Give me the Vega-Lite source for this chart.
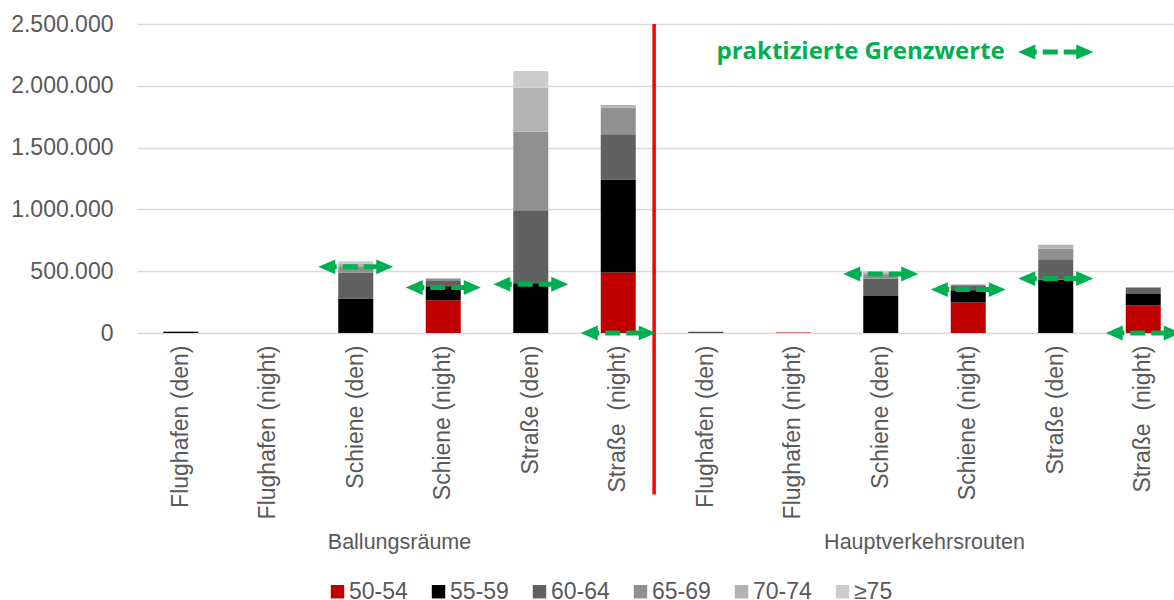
{
  "$schema": "https://vega.github.io/schema/vega-lite/v6.json",
  "width": 1037,
  "height": 309,
  "autosize": {"type": "none"},
  "padding": {"left": 137, "top": 24, "right": 0, "bottom": 267},
  "background": "white",
  "config": {
    "view": {"stroke": null},
    "font": "Liberation Sans"
  },
  "datasets": {
    "bars": [
      {"k": "B|Flughafen (den)", "band": "55-59", "v": 9000},
      {"k": "B|Flughafen (den)", "band": "60-64", "v": 4000},
      {"k": "B|Schiene (den)", "band": "55-59", "v": 279000},
      {"k": "B|Schiene (den)", "band": "60-64", "v": 211000},
      {"k": "B|Schiene (den)", "band": "65-69", "v": 51000},
      {"k": "B|Schiene (den)", "band": "70-74", "v": 24000},
      {"k": "B|Schiene (den)", "band": "≥75", "v": 16000},
      {"k": "B|Schiene (night)", "band": "50-54", "v": 265000},
      {"k": "B|Schiene (night)", "band": "55-59", "v": 113000},
      {"k": "B|Schiene (night)", "band": "60-64", "v": 43000},
      {"k": "B|Schiene (night)", "band": "65-69", "v": 19000},
      {"k": "B|Schiene (night)", "band": "70-74", "v": 3000},
      {"k": "B|Straße (den)", "band": "55-59", "v": 403000},
      {"k": "B|Straße (den)", "band": "60-64", "v": 591000},
      {"k": "B|Straße (den)", "band": "65-69", "v": 634000},
      {"k": "B|Straße (den)", "band": "70-74", "v": 356000},
      {"k": "B|Straße (den)", "band": "≥75", "v": 135000},
      {"k": "B|Straße \u00a0(night)", "band": "50-54", "v": 489000},
      {"k": "B|Straße \u00a0(night)", "band": "55-59", "v": 753000},
      {"k": "B|Straße \u00a0(night)", "band": "60-64", "v": 365000},
      {"k": "B|Straße \u00a0(night)", "band": "65-69", "v": 215000},
      {"k": "B|Straße \u00a0(night)", "band": "70-74", "v": 22000},
      {"k": "H|Flughafen (den)", "band": "55-59", "v": 7000},
      {"k": "H|Flughafen (den)", "band": "60-64", "v": 3000},
      {"k": "H|Flughafen (night)", "band": "50-54", "v": 4000},
      {"k": "H|Schiene (den)", "band": "55-59", "v": 300000},
      {"k": "H|Schiene (den)", "band": "60-64", "v": 141000},
      {"k": "H|Schiene (den)", "band": "65-69", "v": 35000},
      {"k": "H|Schiene (den)", "band": "70-74", "v": 15000},
      {"k": "H|Schiene (den)", "band": "≥75", "v": 8000},
      {"k": "H|Schiene (night)", "band": "50-54", "v": 246000},
      {"k": "H|Schiene (night)", "band": "55-59", "v": 100000},
      {"k": "H|Schiene (night)", "band": "60-64", "v": 35000},
      {"k": "H|Schiene (night)", "band": "65-69", "v": 11000},
      {"k": "H|Straße (den)", "band": "55-59", "v": 430000},
      {"k": "H|Straße (den)", "band": "60-64", "v": 166000},
      {"k": "H|Straße (den)", "band": "65-69", "v": 88000},
      {"k": "H|Straße (den)", "band": "70-74", "v": 28000},
      {"k": "H|Straße (den)", "band": "≥75", "v": 4000},
      {"k": "H|Straße \u00a0(night)", "band": "50-54", "v": 222000},
      {"k": "H|Straße \u00a0(night)", "band": "55-59", "v": 94000},
      {"k": "H|Straße \u00a0(night)", "band": "60-64", "v": 49000},
      {"k": "H|Straße \u00a0(night)", "band": "65-69", "v": 5000}
    ],
    "arrows": [
      {"k": "B|Schiene (den)", "v": 535000},
      {"k": "B|Schiene (night)", "v": 368000},
      {"k": "B|Straße (den)", "v": 395000},
      {"k": "B|Straße \u00a0(night)", "v": 0},
      {"k": "H|Schiene (den)", "v": 477000},
      {"k": "H|Schiene (night)", "v": 351000},
      {"k": "H|Straße (den)", "v": 440000},
      {"k": "H|Straße \u00a0(night)", "v": 0},
      {"k": "H|Straße (den)", "v": 2274000}
    ],
    "note": [
      {"k": "H|Straße (den)", "v": 2274000, "t": "praktizierte Grenzwerte"}
    ],
    "groups": [
      {"k": "B|Schiene (night)", "v": -1695000, "t": "Ballungsräume"},
      {"k": "H|Schiene (night)", "v": -1695000, "t": "Hauptverkehrsrouten"}
    ],
    "divider": [
      {"k": "B|Straße \u00a0(night)", "top": 2500000, "bottom": -1307000}
    ]
  },
  "layer": [
    {
      "data": {"name": "bars"},
      "mark": {"type": "bar", "width": {"band": 0.4}},
      "encoding": {
        "x": {
          "field": "k",
          "type": "nominal",
          "sort": null,
          "scale": {
            "domain": ["B|Flughafen (den)", "B|Flughafen (night)", "B|Schiene (den)", "B|Schiene (night)", "B|Straße (den)", "B|Straße \u00a0(night)", "H|Flughafen (den)", "H|Flughafen (night)", "H|Schiene (den)", "H|Schiene (night)", "H|Straße (den)", "H|Straße \u00a0(night)"],
            "range": [0, 1050],
            "paddingInner": 0,
            "paddingOuter": 0
          },
          "axis": {
            "title": null,
            "labelExpr": "split(datum.value, '|')[1]",
            "labelAngle": -90,
            "labelFontSize": 23,
            "labelColor": "#595959",
            "labelPadding": 12,
            "labelLimit": 400,
            "ticks": false,
            "domain": false,
            "grid": false
          }
        },
        "y": {
          "field": "v",
          "type": "quantitative",
          "stack": "zero",
          "scale": {"domain": [0, 2500000], "nice": false, "zero": true},
          "axis": {
            "title": null,
            "values": [0, 500000, 1000000, 1500000, 2000000, 2500000],
            "labelExpr": "replace(format(datum.value, ','), regexp(',', 'g'), '.')",
            "labelFontSize": 23,
            "labelColor": "#595959",
            "labelPadding": 24,
            "ticks": false,
            "tickSize": 0,
            "domain": false,
            "grid": true,
            "gridColor": "#d9d9d9",
            "gridWidth": 1.3
          }
        },
        "color": {
          "field": "band",
          "type": "nominal",
          "scale": {
            "domain": ["50-54", "55-59", "60-64", "65-69", "70-74", "≥75"],
            "range": ["#c00000", "#000000", "#616161", "#909090", "#b3b3b3", "#cccccc"]
          },
          "legend": {
            "orient": "none",
            "legendX": 189,
            "legendY": 556,
            "direction": "horizontal",
            "columns": 6,
            "title": null,
            "symbolType": "square",
            "symbolSize": 180,
            "symbolStrokeWidth": 0,
            "symbolOpacity": 1,
            "labelFontSize": 23,
            "labelColor": "#595959",
            "labelOffset": 0,
            "labelLimit": 200,
            "columnPadding": 19,
            "padding": 0
          }
        },
        "order": {"field": "band", "sort": "ascending"}
      }
    },
    {
      "data": {"name": "divider"},
      "mark": {"type": "rule", "color": "#ff0000", "strokeWidth": 3.5},
      "encoding": {
        "x": {"field": "k", "type": "nominal", "bandPosition": 0.91},
        "y": {"field": "top", "type": "quantitative"},
        "y2": {"field": "bottom"}
      }
    },
    {
      "data": {"name": "arrows"},
      "mark": {"type": "rule", "color": "#00b050", "strokeWidth": 5, "strokeDash": [15, 6], "strokeDashOffset": 8, "xOffset": -26, "x2Offset": 26},
      "encoding": {
        "x": {"field": "k", "type": "nominal"},
        "x2": {"field": "k"},
        "y": {"field": "v", "type": "quantitative"}
      }
    },
    {
      "data": {"name": "arrows"},
      "mark": {"type": "point", "shape": "M-1,0L1,-0.88L1,0.88Z", "filled": true, "size": 289, "opacity": 1, "color": "#00b050", "strokeWidth": 0, "xOffset": -29},
      "encoding": {
        "x": {"field": "k", "type": "nominal"},
        "y": {"field": "v", "type": "quantitative"}
      }
    },
    {
      "data": {"name": "arrows"},
      "mark": {"type": "point", "shape": "M1,0L-1,-0.88L-1,0.88Z", "filled": true, "size": 289, "opacity": 1, "color": "#00b050", "strokeWidth": 0, "xOffset": 29},
      "encoding": {
        "x": {"field": "k", "type": "nominal"},
        "y": {"field": "v", "type": "quantitative"}
      }
    },
    {
      "data": {"name": "note"},
      "mark": {"type": "text", "font": "Open Sans", "fontWeight": "bold", "fontSize": 24, "color": "#00b050", "align": "right", "baseline": "middle", "dx": -51},
      "encoding": {
        "x": {"field": "k", "type": "nominal"},
        "y": {"field": "v", "type": "quantitative"},
        "text": {"field": "t"}
      }
    },
    {
      "data": {"name": "groups"},
      "mark": {"type": "text", "fontSize": 21.5, "color": "#595959", "align": "center", "baseline": "middle"},
      "encoding": {
        "x": {"field": "k", "type": "nominal", "bandPosition": 0},
        "y": {"field": "v", "type": "quantitative"},
        "text": {"field": "t"}
      }
    }
  ]
}
